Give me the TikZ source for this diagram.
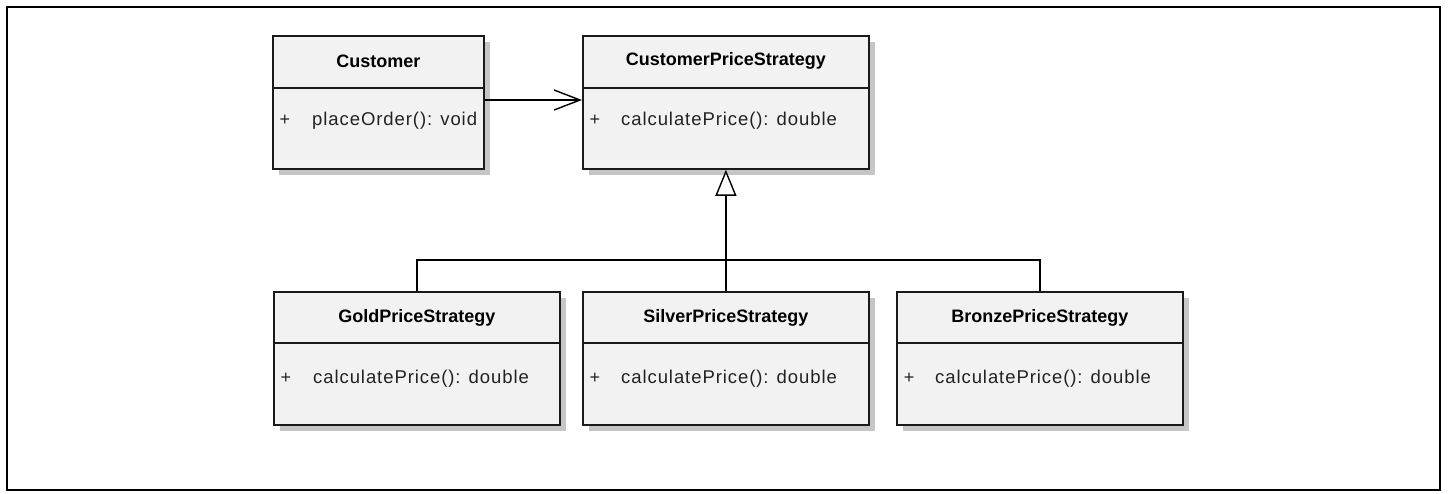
\documentclass[tikz,border=0pt]{standalone}
\usepackage{fontspec}
\setmainfont{Liberation Sans}
\usetikzlibrary{shadows,arrows.meta}
\definecolor{boxfill}{HTML}{F2F2F2}
\definecolor{shadowgray}{HTML}{C6C6C6}
\definecolor{linecol}{HTML}{1A1A1A}
\definecolor{textcol}{HTML}{222222}
\begin{document}
\begin{tikzpicture}[x=1pt,y=-1pt,
  classbox/.style={draw=linecol, line width=1.8pt, fill=boxfill, rectangle, inner sep=0pt,
    anchor=north west, minimum width=286pt, minimum height=133pt,
    drop shadow={shadow xshift=6pt, shadow yshift=-6pt, fill=shadowgray, opacity=1}},
  divider/.style={draw=linecol, line width=1.8pt},
  classtitle/.style={font=\fontsize{18}{20}\selectfont\bfseries, text=black, inner sep=0pt},
  meth/.style={font=\fontsize{18.5}{20}\selectfont\addfontfeature{LetterSpace=5}, text=textcol, anchor=mid west, inner sep=0pt},
  vis/.style={font=\fontsize{18}{20}\selectfont, text=textcol, anchor=mid, inner sep=0pt},
  assoc/.style={draw=black, line width=2pt, -{Straight Barb[length=26pt, width=20pt, line width=1.4pt]}},
  genline/.style={draw=black, line width=1.5pt},
  genarrow/.style={genline, -{Triangle[open, length=26pt, width=21pt, fill=white, line width=1.4pt]}},
  frame/.style={draw=black, line width=2.2pt}
]
\useasboundingbox (0,0) rectangle (1449,493);
\draw[frame] (7,7) rectangle (1440,490);

% Customer
\node[classbox, minimum width=211pt] (cust) at (272,35) {};
\draw[divider] (cust.west |- 0,88) -- (cust.east |- 0,88);
\node[classtitle] (custT) at (cust.north |- 0,61) {Customer};
\node[vis] (custV) at (285,123) {+};
\node[meth] (custM) at (312,123) {placeOrder(): void};

% CustomerPriceStrategy
\node[classbox] (cps) at (582,35) {};
\draw[divider] (cps.west |- 0,88) -- (cps.east |- 0,88);
\node[classtitle] (cpsT) at (cps.north |- 0,61) {CustomerPriceStrategy};
\node[vis] (cpsV) at (595,123) {+};
\node[meth] (cpsM) at (621,123) {calculatePrice(): double};

% Gold
\node[classbox] (gold) at (273,291) {};
\draw[divider] (gold.west |- 0,343) -- (gold.east |- 0,343);
\node[classtitle] (goldT) at (gold.north |- 0,318) {GoldPriceStrategy};
\node[vis] (goldV) at (286,381) {+};
\node[meth] (goldM) at (313,381) {calculatePrice(): double};

% Silver
\node[classbox] (silver) at (582,291) {};
\draw[divider] (silver.west |- 0,343) -- (silver.east |- 0,343);
\node[classtitle] (silverT) at (silver.north |- 0,318) {SilverPriceStrategy};
\node[vis] (silverV) at (595,381) {+};
\node[meth] (silverM) at (621,381) {calculatePrice(): double};

% Bronze
\node[classbox] (bronze) at (896,291) {};
\draw[divider] (bronze.west |- 0,343) -- (bronze.east |- 0,343);
\node[classtitle] (bronzeT) at (bronze.north |- 0,318) {BronzePriceStrategy};
\node[vis] (bronzeV) at (909,381) {+};
\node[meth] (bronzeM) at (935,381) {calculatePrice(): double};

% association
\draw[assoc] (cust.east |- 0,100) -- (cps.west |- 0,100);

% generalization
\coordinate (jn) at (silver.north |- 0,260);
\draw[genline] (gold.north) -- (gold.north |- jn) -- (bronze.north |- jn) -- (bronze.north);
\draw[genline] (silver.north) -- (jn);
\draw[genarrow] (jn) -- (cps.south);
\end{tikzpicture}
\end{document}
